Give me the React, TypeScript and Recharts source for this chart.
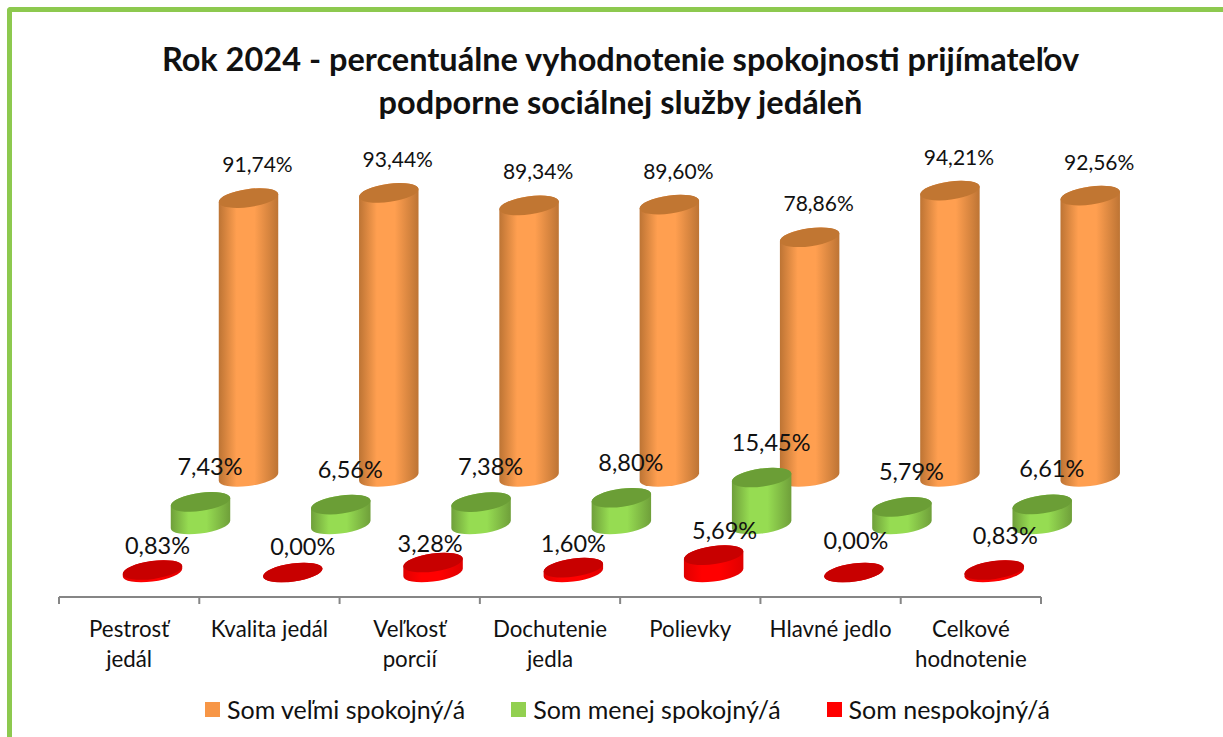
import { BarChart, Bar, XAxis, YAxis, Legend, LabelList } from "recharts";

const categories = [
  "Pestrosť\njedál",
  "Kvalita jedál",
  "Veľkosť\nporcií",
  "Dochutenie\njedla",
  "Polievky",
  "Hlavné jedlo",
  "Celkové\nhodnotenie",
];
const verySatisfied = [91.74, 93.44, 89.34, 89.6, 78.86, 94.21, 92.56];
const lessSatisfied = [7.43, 6.56, 7.38, 8.8, 15.45, 5.79, 6.61];
const dissatisfied = [0.83, 0, 3.28, 1.6, 5.69, 0, 0.83];

// hand-placed labels in the original, offsets from the top of each red cylinder
const redLabelDx = [5, 10, -3, 0, 11, 2, 11];
const redLabelDy = [-25, -27, -20, -25, -25, -33, -35];

const data = categories.map((name, i) => ({
  name,
  verySatisfied: verySatisfied[i],
  lessSatisfied: lessSatisfied[i],
  dissatisfied: dissatisfied[i],
}));

const FONT = "Lato, sans-serif";
const W = 1223;
const H = 737;
const AXIS_LEFT = 59;
const AXIS_RIGHT = 1041;
const AXIS_Y = 597;
const XAXIS_H = 30;
const BAND = (AXIS_RIGHT - AXIS_LEFT) / categories.length;
const BAR_W = 59;
const STEP = 48; // depth step between the rows
const SHIFT_X = 71;

const RX = 30;
const RY = 9;
const TILT = (-8 * Math.PI) / 180;
const t0 = Math.atan2(-RY * Math.sin(TILT), RX * Math.cos(TILT));
const edgeX = RX * Math.cos(t0) * Math.cos(TILT) - RY * Math.sin(t0) * Math.sin(TILT);
const edgeY = RX * Math.cos(t0) * Math.sin(TILT) + RY * Math.sin(t0) * Math.cos(TILT);

function makeCylinder(id: string, top: string, dy: number) {
  return (props: any) => {
    const { x, y, width, height } = props;
    const cx = x + width / 2 + SHIFT_X;
    const yTop = y + dy;
    const yBottom = y + height + dy;
    const rot = (TILT * 180) / Math.PI;
    const body = [
      `M ${cx - edgeX} ${yTop - edgeY}`,
      `L ${cx - edgeX} ${yBottom - edgeY}`,
      `A ${RX} ${RY} ${rot} 0 0 ${cx + edgeX} ${yBottom + edgeY}`,
      `L ${cx + edgeX} ${yTop + edgeY}`,
      `A ${RX} ${RY} ${rot} 0 0 ${cx - edgeX} ${yTop - edgeY}`,
      "Z",
    ].join(" ");
    return (
      <g>
        <path d={body} fill={`url(#${id})`} />
        <ellipse
          cx={cx}
          cy={yTop}
          rx={RX}
          ry={RY}
          fill={top}
          transform={`rotate(${rot} ${cx} ${yTop})`}
        />
      </g>
    );
  };
}

function makeLabel(dy: number, size: number, dxs: number[] | null, dys: number[] | null) {
  return (props: any) => {
    const { x, y, width, value, index } = props;
    const dx = dxs ? dxs[index] : size > 22 ? 9.5 : 9;
    const up = dys ? dys[index] : size > 22 ? -36 : -34.6;
    return (
      <text
        x={x + width / 2 + SHIFT_X + dx}
        y={y + dy + up}
        textAnchor="middle"
        dominantBaseline="central"
        fontFamily={FONT}
        fontSize={size}
        fill="#111"
      >
        {value.toFixed(2).replace(".", ",")}%
      </text>
    );
  };
}

function CategoryTick(props: any) {
  const { x, payload, index } = props;
  const lines = String(payload.value).split("\n");
  const left = x - BAND / 2;
  return (
    <g>
      <line x1={left} x2={left} y1={AXIS_Y} y2={AXIS_Y + 7} stroke="#868686" strokeWidth={2} />
      {index === categories.length - 1 && (
        <line x1={left + BAND} x2={left + BAND} y1={AXIS_Y} y2={AXIS_Y + 7} stroke="#868686" strokeWidth={2} />
      )}
      {lines.map((line, i) => (
        <text
          key={line}
          x={x}
          y={628 + i * 30}
          textAnchor="middle"
          dominantBaseline="central"
          fontFamily={FONT}
          fontSize={22.3}
          fill="#111"
        >
          {line}
        </text>
      ))}
    </g>
  );
}

function LegendRow({ payload }: any) {
  return (
    <div style={{ display: "flex", gap: 46, fontFamily: FONT, fontSize: 25, color: "#111" }}>
      {(payload ?? []).map((item: any) => (
        <div key={item.value} style={{ display: "flex", alignItems: "center", gap: 7 }}>
          <span style={{ width: 15, height: 15, background: item.color, display: "inline-block" }} />
          <span>{item.value}</span>
        </div>
      ))}
    </div>
  );
}

function Gradient({ id, edge, mid }: { id: string; edge: string; mid: string }) {
  return (
    <linearGradient id={id} x1="0" y1="0" x2="1" y2="0">
      <stop offset="0%" stopColor={edge} />
      <stop offset="30%" stopColor={mid} />
      <stop offset="60%" stopColor={mid} />
      <stop offset="100%" stopColor={edge} />
    </linearGradient>
  );
}

export default function App() {
  return (
    <div style={{ position: "absolute", left: 0, top: 0, width: W, height: H, background: "#fff", overflow: "hidden" }}>
      <div
        style={{
          position: "absolute",
          left: 7,
          top: 7,
          width: W,
          height: H,
          boxSizing: "border-box",
          borderLeft: "5px solid #8dc94f",
          borderTop: "5px solid #8dc94f",
          borderTopLeftRadius: 4,
        }}
      />
      <div
        style={{
          position: "absolute",
          left: 0,
          top: 37,
          width: 1241,
          textAlign: "center",
          fontFamily: FONT,
          fontWeight: 700,
          fontSize: 32.5,
          lineHeight: "43px",
          color: "#111",
        }}
      >
        Rok 2024 - percentuálne vyhodnotenie spokojnosti prijímateľov
        <br />
        podporne sociálnej služby jedáleň
      </div>
      <div style={{ position: "absolute", left: 0, top: 0 }}>
        <BarChart
          width={W}
          height={H}
          data={data}
          barSize={BAR_W}
          barGap={-STEP - BAR_W}
          margin={{ top: 293, right: W - AXIS_RIGHT, bottom: H - AXIS_Y - XAXIS_H, left: AXIS_LEFT }}
        >
          <defs>
            <Gradient id="orangeBody" edge="#bd7434" mid="#ff9f50" />
            <Gradient id="greenBody" edge="#6f9f3a" mid="#96dc52" />
            <Gradient id="redBody" edge="#e00000" mid="#ff0000" />
          </defs>
          <XAxis
            dataKey="name"
            height={XAXIS_H}
            axisLine={{ stroke: "#868686", strokeWidth: 2 }}
            tickLine={false}
            tick={CategoryTick}
            interval={0}
          />
          <YAxis hide domain={[0, 100]} />
          <Legend
            layout="horizontal"
            verticalAlign="middle"
            align="center"
            itemSorter={null}
            wrapperStyle={{ left: 205, top: 694, width: 900 }}
            content={LegendRow}
          />
          <Bar
            dataKey="verySatisfied"
            name="Som veľmi spokojný/á"
            fill="#f79646"
            isAnimationActive={false}
            shape={makeCylinder("orangeBody", "#c17632", -120)}
          >
            <LabelList dataKey="verySatisfied" content={makeLabel(-120, 21, null, null)} />
          </Bar>
          <Bar
            dataKey="lessSatisfied"
            name="Som menej spokojný/á"
            fill="#92d050"
            isAnimationActive={false}
            shape={makeCylinder("greenBody", "#6b9e36", -72.5)}
          >
            <LabelList dataKey="lessSatisfied" content={makeLabel(-72.5, 23.5, null, null)} />
          </Bar>
          <Bar
            dataKey="dissatisfied"
            name="Som nespokojný/á"
            fill="#ff0000"
            isAnimationActive={false}
            shape={makeCylinder("redBody", "#c80000", -24.5)}
          >
            <LabelList dataKey="dissatisfied" content={makeLabel(-24.5, 23.5, redLabelDx, redLabelDy)} />
          </Bar>
        </BarChart>
      </div>
    </div>
  );
}
